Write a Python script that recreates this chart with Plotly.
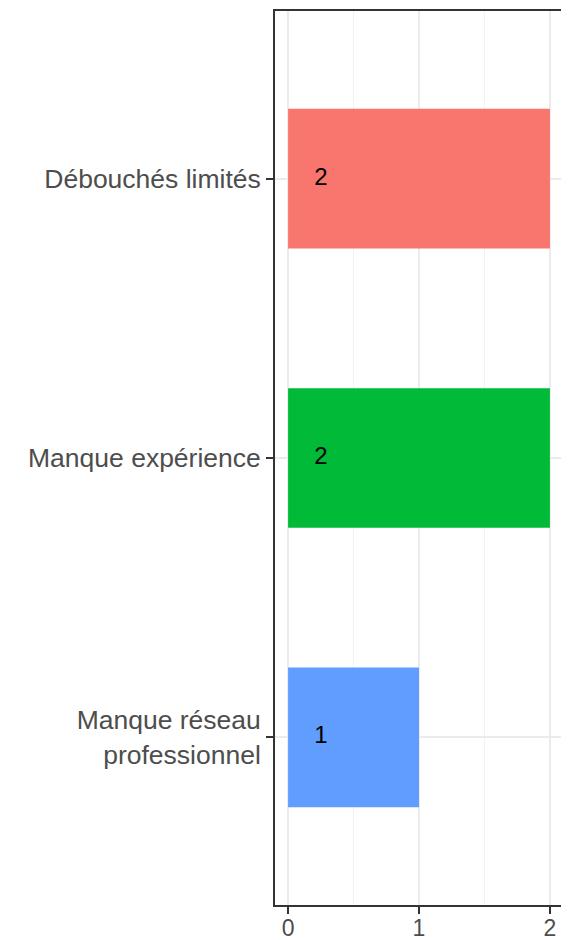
import plotly.graph_objects as go

categories = ["Débouchés limités", "Manque expérience", "Manque réseau<br>professionnel"]
values = [2, 2, 1]
colors = ["#F8766D", "#00BA38", "#619CFF"]
label_x = 0.25
x_ticks = [0, 1, 2]

FONT = "Liberation Sans, Arial, sans-serif"

fig = go.Figure()
fig.add_trace(go.Bar(
    x=values, y=categories, orientation="h",
    marker=dict(color=colors, line=dict(width=0)),
    width=0.5, showlegend=False, hoverinfo="skip",
))
fig.add_trace(go.Scatter(
    x=[label_x] * len(values), y=categories, mode="text",
    text=[str(v) for v in values],
    textfont=dict(family=FONT, size=24, color="black"),
    textposition="middle center", showlegend=False, hoverinfo="skip",
))

# page body has an 8px default margin; figure is sized to fit the window
fig.update_layout(
    width=561, height=932,
    margin=dict(l=267, r=6, t=3, b=35),
    plot_bgcolor="white", paper_bgcolor="white",
)
fig.update_xaxes(
    range=[-0.1, 2.1], tickvals=x_ticks, ticktext=[str(t) for t in x_ticks],
    showgrid=True, gridcolor="#EBEBEB", gridwidth=1.5,
    minor=dict(tickvals=[0.5, 1.5], showgrid=True, gridcolor="#F2F2F2", gridwidth=1, ticks=""),
    showline=True, linecolor="#333333", linewidth=1.8, mirror=True,
    ticks="outside", ticklen=7, tickwidth=1.8, tickcolor="#333333",
    tickfont=dict(family=FONT, size=23, color="#4D4D4D"),
    ticklabelstandoff=-6,
    zeroline=False, automargin=False,
)
fig.update_yaxes(
    categoryorder="array", categoryarray=categories[::-1],
    range=[-0.6, 2.6],
    showgrid=True, gridcolor="#EBEBEB", gridwidth=1.5,
    showline=True, linecolor="#333333", linewidth=1.8, mirror=True,
    ticks="outside", ticklen=7, tickwidth=1.8, tickcolor="#333333",
    tickfont=dict(family=FONT, size=26.5, color="#4D4D4D"),
    zeroline=False, automargin=False,
)

fig.write_html("out.html")
